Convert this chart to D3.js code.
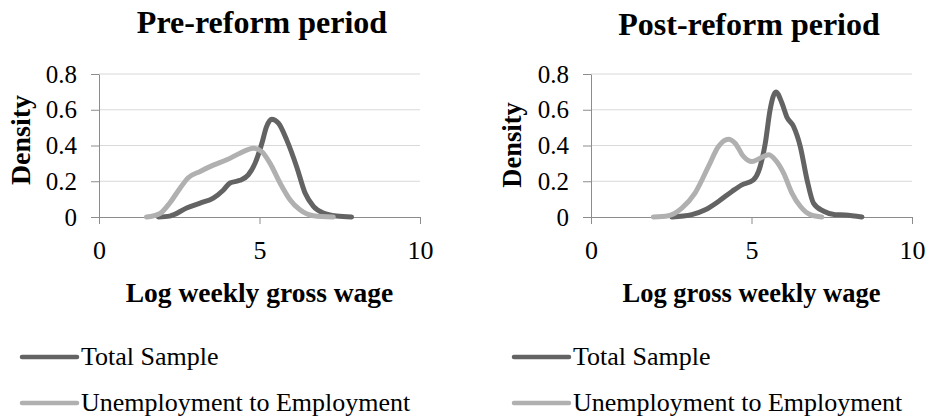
<!DOCTYPE html>
<html><head><meta charset="utf-8">
<script src="https://cdn.jsdelivr.net/npm/d3@7"></script>
<style>body{margin:0;background:#fff}svg{display:block}svg text{font-family:"Liberation Serif","Times New Roman",serif !important;fill:#000}</style>
</head><body><svg id="c" width="930" height="418"></svg>
<script>
const titles = ["Pre-reform period", "Post-reform period"];
const xLabels = ["Log weekly gross wage", "Log gross weekly wage"];
const yLabel = "Density";
const seriesNames = ["Total Sample", "Unemployment to Employment"];
const xTicks = [0, 5, 10];
const yTicks = [0, 0.2, 0.4, 0.6, 0.8];

const preTotalX = [1.85,2.2,2.73,3.15,3.56,3.87,4.08,4.39,4.65,4.86,5.07,5.22,5.38,5.59,5.85,6.16,6.42,6.68,6.99,7.4,7.87];
const preTotalY = [0,0.005,0.05,0.078,0.106,0.15,0.19,0.205,0.236,0.30,0.41,0.506,0.547,0.525,0.43,0.28,0.134,0.06,0.022,0.005,0];
const preUEX = [1.48,1.9,2.21,2.52,2.78,3.15,3.56,3.98,4.39,4.81,5.07,5.33,5.64,5.95,6.26,6.68,7.3];
const preUEY = [0,0.02,0.08,0.16,0.22,0.255,0.29,0.32,0.357,0.385,0.366,0.30,0.19,0.097,0.04,0.007,0];
const postTotalX = [2.52,3.14,3.56,3.97,4.39,4.7,5.06,5.22,5.43,5.58,5.76,5.95,6.1,6.31,6.52,6.73,6.93,7.25,7.61,7.92,8.44];
const postTotalY = [0,0.013,0.04,0.087,0.143,0.18,0.208,0.255,0.413,0.6,0.70,0.636,0.56,0.506,0.394,0.208,0.078,0.032,0.013,0.011,0];
const postUEX = [1.94,2.41,2.83,3.24,3.66,3.97,4.28,4.49,4.75,5.01,5.27,5.53,5.74,6.0,6.26,6.52,6.83,7.19];
const postUEY = [0,0.007,0.05,0.134,0.283,0.394,0.435,0.413,0.339,0.31,0.329,0.348,0.32,0.246,0.134,0.06,0.013,0];

const colors = ["#636363", "#b0b0b0"];
const panels = [
  {title: titles[0], xl: xLabels[0], left: 99, right: 420, titleX: 262, titleY: 33, ylabX: 30, ylabY: 140, legX: 22, xlSize: 27.5, ylSize: 28,
   series: [[preTotalX, preTotalY], [preUEX, preUEY]]},
  {title: titles[1], xl: xLabels[1], left: 591, right: 912, titleX: 749, titleY: 35, ylabX: 521, ylabY: 145, legX: 514, xlSize: 26.5, ylSize: 26.5,
   series: [[postTotalX, postTotalY], [postUEX, postUEY]]}
];
const plotTop = 74, plotBottom = 217;
const svg = d3.select("#c");

panels.forEach(p => {
  const x = d3.scaleLinear().domain([0, 10]).range([p.left, p.right]);
  const y = d3.scaleLinear().domain([0, 0.8]).range([plotBottom, plotTop]);
  const g = svg.append("g");
  g.selectAll(".grid").data(yTicks.slice(1)).enter().append("line")
    .attr("x1", p.left).attr("x2", p.right)
    .attr("y1", d => y(d)).attr("y2", d => y(d))
    .attr("stroke", "#d9d9d9").attr("stroke-width", 1);
  const ya = g.append("g").attr("transform", `translate(${p.left},0)`)
    .call(d3.axisLeft(y).tickValues(yTicks).tickSize(8).tickSizeOuter(0).tickPadding(14).tickFormat(d => d === 0 ? "0" : d3.format(".1f")(d)))
    .attr("font-family", "Liberation Serif").attr("font-size", 25);
  ya.select(".domain").attr("stroke", "#8c8c8c");
  ya.selectAll(".tick line").attr("stroke", "#8c8c8c");
  ya.selectAll(".tick text").attr("fill", "#000").attr("font-size", 25);
  const xa = g.append("g").attr("transform", `translate(0,${plotBottom})`)
    .call(d3.axisBottom(x).tickValues(xTicks).tickSize(7).tickSizeOuter(0).tickPadding(14))
    .attr("font-family", "Liberation Serif").attr("font-size", 26);
  xa.select(".domain").attr("stroke", "#8c8c8c");
  xa.selectAll(".tick line").attr("stroke", "#8c8c8c");
  xa.selectAll(".tick text").attr("fill", "#000").attr("font-size", 26).attr("dy", null).attr("y", 42);
  const line = d3.line().x(d => x(d[0])).y(d => y(d[1])).curve(d3.curveMonotoneX);
  p.series.forEach((s, i) => {
    const pts = s[0].map((v, k) => [v, s[1][k]]);
    g.append("path").datum(pts).attr("d", line).attr("fill", "none")
      .attr("stroke", colors[i]).attr("stroke-width", 5)
      .attr("stroke-linejoin", "round").attr("stroke-linecap", "round");
  });
  g.append("text").attr("x", p.titleX).attr("y", p.titleY).attr("text-anchor", "middle")
    .attr("font-size", 32).attr("font-weight", "bold").text(p.title);
  g.append("text").attr("x", (p.left + p.right) / 2).attr("y", 302).attr("text-anchor", "middle")
    .attr("font-size", p.xlSize).attr("font-weight", "bold").text(p.xl);
  g.append("text").attr("transform", `translate(${p.ylabX},${p.ylabY}) rotate(-90)`).attr("text-anchor", "middle")
    .attr("font-size", p.ylSize).attr("font-weight", "bold").text(yLabel);
  seriesNames.forEach((n, i) => {
    const ly = 357 + i * 46;
    g.append("line").attr("x1", p.legX).attr("x2", p.legX + 55).attr("y1", ly).attr("y2", ly)
      .attr("stroke", colors[i]).attr("stroke-width", 4.5).attr("stroke-linecap", "round");
    g.append("text").attr("x", p.legX + 59).attr("y", ly + 8).attr("font-size", 26).text(n);
  });
});
</script></body></html>
